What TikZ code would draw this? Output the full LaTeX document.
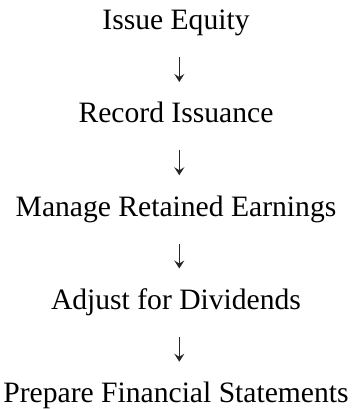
\documentclass[tikz,border=0pt]{standalone}
\usepackage{fontspec}
\setmainfont{Liberation Serif}
\usetikzlibrary{arrows.meta}
\begin{document}
\begin{tikzpicture}[x=1pt,y=-1pt,
  steptext/.style={anchor=base,inner sep=0pt,font=\fontsize{29.6}{36}\selectfont},
  flowarrow/.style={line width=1.3pt,draw=black!85,
    -{Stealth[length=8pt,width=10pt,inset=3pt]}}]
  \useasboundingbox (0,0) rectangle (352,409);
  % steps, one line each, 93.25 apart
  \node[steptext] (s1) at (176,29.5)   {Issue Equity};
  \node[steptext] (s2) at (176,122.75) {Record Issuance};
  \node[steptext] (s3) at (176,216)    {Manage Retained Earnings};
  \node[steptext] (s4) at (176,309.25) {Adjust for Dividends};
  \node[steptext] (s5) at (176,402.5)  {Prepare Financial Statements};
  % short down arrow below each step
  \foreach \i in {1,...,4}{
    \coordinate (a\i top) at ([shift={(3.3,27.5)}]s\i.base);
    \coordinate (a\i end) at ([shift={(3.3,52.5)}]s\i.base);
    \draw[flowarrow] (a\i top) -- (a\i end);
  }
\end{tikzpicture}
\end{document}
